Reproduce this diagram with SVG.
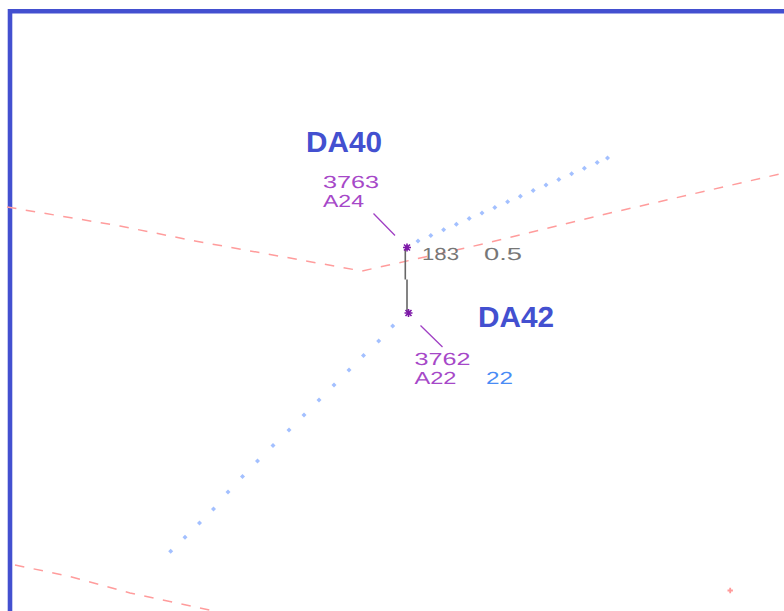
<svg xmlns="http://www.w3.org/2000/svg" width="784" height="611" viewBox="0 0 784 611">
<style>
text{text-rendering:geometricPrecision}
.trail{fill:none;stroke:none;marker-start:url(#dot);marker-mid:url(#dot);marker-end:url(#dot)}
.route{fill:none;stroke:#ff9c9c;stroke-width:1.5;stroke-dasharray:9.5 9.5}
.call{font-family:"Liberation Sans",Arial,sans-serif;font-weight:700;font-size:29px;fill:#4350d0}
.stroke{font-family:"Liberation Sans",Arial,sans-serif;font-size:17.5px}
.pur{fill:#a648c8}
.gry{fill:#777}
.blu{fill:#4a8cf5}
.lead{stroke:#a040c4;stroke-width:1.3;fill:none}
.sep{stroke:#666;stroke-width:1.6;fill:none}
.star{fill:none;stroke:#7d1aa8;stroke-width:1.6}
</style>
<defs>
<marker id="dot" markerUnits="userSpaceOnUse" markerWidth="7" markerHeight="7" refX="3.5" refY="3.5" viewBox="0 0 7 7">
<path d="M3.5 1L6 3.5L3.5 6L1 3.5Z" fill="#a3c0ff"/>
</marker>
<g id="s"><path class="star" d="M-4 0H4M0-4V4M-3-3L3 3M-3 3L3-3"/></g>
</defs>
<rect width="784" height="611" fill="#fff"/>
<path d="M10 611V11.2H784" fill="none" stroke="#4350d0" stroke-width="4.6"/>
<g id="connectors">
<path class="route" d="M7 207L120 226L195 241L362 271L470 247L610 213L784 173"/>
<path class="route" d="M15 565L68 576L130 593L214 611"/>
<path d="M727.5 590.5h5.4M730.2 587.8v5.4" stroke="#ff9a9a" stroke-width="1.8"/>
<polyline class="trail" points="418,241 430.8,235.4 443.6,229.8 456.4,224.2 469.2,218.6 482,213 494.8,207.4 507.6,201.8 520.4,196.2 533.2,190.6 546,185 558.8,179.4 571.6,173.8 584.4,168.2 597.2,162.6 607.5,158"/>
<polyline class="trail" points="170.7,551.3 185,537.3 199.5,523 213.5,509 228,492 242.5,476.5 257.5,461 273,445.5 289,430 304,415 319,400 334,385 349,370 363.5,355.5 378.7,341 392.7,326"/>
<path class="sep" d="M405.3 250V279.5M407 279.5V312"/>
<path class="lead" d="M373.5 213.5L395 235.5M420.5 325.5L442.5 347"/>
</g>
<g id="da40">
<use href="#s" x="407" y="247.5"/>
<text class="call" x="306" y="152" textLength="76" lengthAdjust="spacingAndGlyphs">DA40</text>
<text class="stroke pur" x="323" y="187.5" textLength="56" lengthAdjust="spacingAndGlyphs">3763</text>
<text class="stroke pur" x="323" y="206.5" textLength="41" lengthAdjust="spacingAndGlyphs">A24</text>
</g>
<g id="da42">
<use href="#s" x="408.5" y="313"/>
<text class="call" x="478" y="326.5" textLength="76" lengthAdjust="spacingAndGlyphs">DA42</text>
<text class="stroke pur" x="414.5" y="364.5" textLength="56" lengthAdjust="spacingAndGlyphs">3762</text>
<text class="stroke pur" x="414.5" y="383.5" textLength="42" lengthAdjust="spacingAndGlyphs">A22</text>
<text class="stroke blu" x="486" y="383.5" textLength="27" lengthAdjust="spacingAndGlyphs">22</text>
</g>
<g id="separation">
<text class="stroke gry" x="422" y="259.5" textLength="37" lengthAdjust="spacingAndGlyphs">183</text>
<text class="stroke gry" x="484" y="259.5" textLength="38" lengthAdjust="spacingAndGlyphs">0.5</text>
</g>
</svg>
